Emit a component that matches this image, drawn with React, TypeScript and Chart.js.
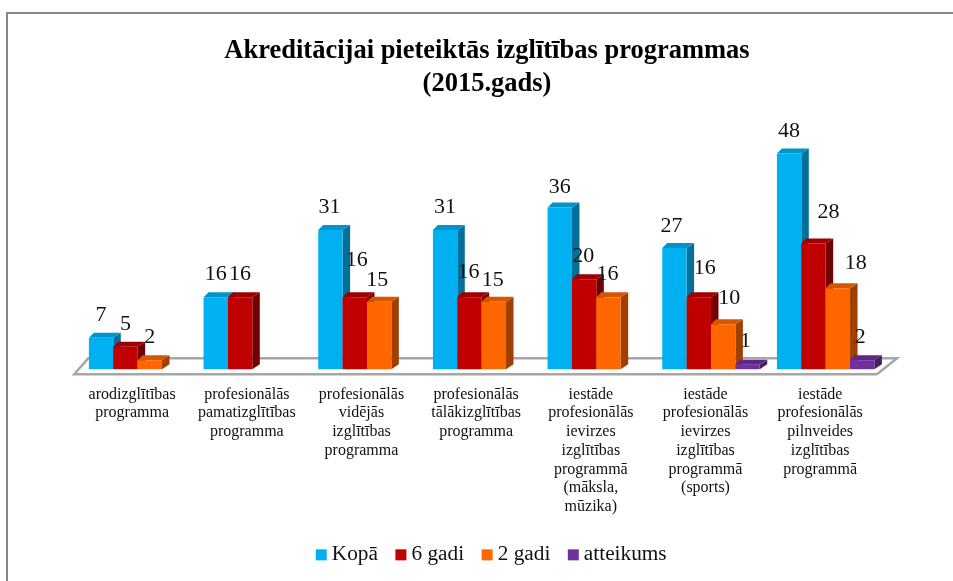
import React, { useEffect, useRef } from "react";
import { Chart, registerables } from "chart.js";

Chart.register(...registerables);

const categories: string[][] = [
  ["arodizglītības", "programma"],
  ["profesionālās", "pamatizglītības", "programma"],
  ["profesionālās", "vidējās", "izglītības", "programma"],
  ["profesionālās", "tālākizglītības", "programma"],
  ["iestāde", "profesionālās", "ievirzes", "izglītības", "programmā", "(māksla,", "mūzika)"],
  ["iestāde", "profesionālās", "ievirzes", "izglītības", "programmā", "(sports)"],
  ["iestāde", "profesionālās", "pilnveides", "izglītības", "programmā"],
];
const kopa = [7, 16, 31, 31, 36, 27, 48];
const gadi6 = [5, 16, 16, 16, 20, 16, 28];
const gadi2 = [2, null, 15, 15, 16, 10, 18];
const atteikums = [null, null, null, null, null, 1, 2];

// hand-placed label shifts of the original, [dx, dy] per series and category
const labelNudges: number[][][] = [
  [[0, 0], [0, 0], [-1, 0], [0, 0], [0, 3], [-3, 1], [0, 1]],
  [[0, 0], [0, 0], [2, -14], [-1, -2], [-1, 0], [6, -6], [15, -8]],
  [[0, 0], [0, 0], [-2, 1], [-1, 1], [-1, 0], [6, -3], [18, -2]],
  [[0, 0], [0, 0], [0, 0], [0, 0], [0, 0], [-2, 0], [-2, 0]],
];

const FRONT = ["#00B0F0", "#C00000", "#FF6600", "#7030A0"];
const TOP = ["#0094C8", "#9E0000", "#D65500", "#5C2785"];
const SIDE = ["#006F99", "#730000", "#A04000", "#45205F"];
const SERIF = "'Liberation Serif', 'Times New Roman', serif";
const DX = 7.5;
const DY = -5;
const LEGEND_SHIFT = 9.7;

const poly = (ctx: CanvasRenderingContext2D, pts: number[][], fill: string) => {
  ctx.beginPath();
  pts.forEach(([x, y], i) => (i ? ctx.lineTo(x, y) : ctx.moveTo(x, y)));
  ctx.closePath();
  ctx.fillStyle = fill;
  ctx.fill();
};

const chart3d = {
  id: "chart3d",
  afterLayout(chart: any) {
    const { legend } = chart;
    legend.left += LEGEND_SHIFT;
    legend.right += LEGEND_SHIFT;
    legend.legendHitBoxes.forEach((box: any) => {
      box.left += LEGEND_SHIFT;
    });
  },
  beforeDraw(chart: any) {
    const { ctx } = chart;
    ctx.save();
    ctx.strokeStyle = "#888888";
    ctx.lineWidth = 2;
    ctx.beginPath();
    ctx.moveTo(7, chart.height);
    ctx.lineTo(7, 13);
    ctx.lineTo(chart.width, 13);
    ctx.stroke();
    ctx.restore();
  },
  beforeDatasetsDraw(chart: any) {
    const { ctx, chartArea: a } = chart;
    ctx.save();
    ctx.strokeStyle = "#A6A6A6";
    ctx.lineWidth = 2.5;
    ctx.beginPath();
    ctx.moveTo(a.right - 6, a.bottom + 5);
    ctx.lineTo(a.left - 6, a.bottom + 5);
    ctx.lineTo(a.left + 8, a.bottom - 11);
    ctx.lineTo(a.right + 14, a.bottom - 11);
    ctx.lineTo(a.right - 6, a.bottom + 5);
    ctx.stroke();
    ctx.restore();
  },
  beforeDatasetDraw() {
    return false;
  },
  afterDatasetsDraw(chart: any) {
    const { ctx } = chart;
    ctx.save();
    chart.data.datasets.forEach((ds: any, i: number) => {
      chart.getDatasetMeta(i).data.forEach((bar: any, j: number) => {
        if (ds.data[j] == null) return;
        const { x, y, base, width } = bar.getProps(["x", "y", "base", "width"], true);
        const l = x - width / 2;
        const r = x + width / 2;
        poly(ctx, [[r, y], [r + DX, y + DY], [r + DX, base + DY], [r, base]], SIDE[i]);
        poly(ctx, [[l, y], [l + DX - 2.5, y + DY], [r + DX, y + DY], [r, y]], TOP[i]);
        bar.draw(ctx);
      });
    });
    ctx.font = `22px ${SERIF}`;
    ctx.fillStyle = "#111111";
    ctx.textAlign = "center";
    ctx.textBaseline = "middle";
    chart.data.datasets.forEach((ds: any, i: number) => {
      chart.getDatasetMeta(i).data.forEach((bar: any, j: number) => {
        if (ds.data[j] == null) return;
        const { x, y } = bar.getProps(["x", "y"], true);
        const [nx, ny] = labelNudges[i][j];
        ctx.fillText(String(ds.data[j]), x + nx, y - 23 + ny);
      });
    });
    ctx.restore();
  },
  afterDraw(chart: any) {
    const { ctx, legend } = chart;
    ctx.save();
    legend.legendHitBoxes.forEach((box: any, i: number) => {
      ctx.fillStyle = FRONT[i];
      ctx.fillRect(box.left - 11, box.top + box.height / 2 - 5.5, 11, 11);
    });
    ctx.restore();
  },
};

export default function App() {
  const ref = useRef<HTMLCanvasElement>(null);
  useEffect(() => {
    const chart = new Chart(ref.current as HTMLCanvasElement, {
      type: "bar",
      plugins: [chart3d],
      data: {
        labels: categories,
        datasets: [
          { label: "Kopā", data: kopa, backgroundColor: FRONT[0] },
          { label: "6 gadi", data: gadi6, backgroundColor: FRONT[1] },
          { label: "2 gadi", data: gadi2, backgroundColor: FRONT[2] },
          { label: "atteikums", data: atteikums, backgroundColor: FRONT[3] },
        ],
      },
      options: {
        responsive: false,
        animation: false,
        layout: { padding: { left: 24, right: 3, top: 0, bottom: 5.5 } },
        datasets: { bar: { categoryPercentage: 0.85, barPercentage: 1 } },
        scales: {
          x: {
            grid: { display: false },
            border: { display: false },
            ticks: {
              padding: 8,
              labelOffset: -5.5,
              maxRotation: 0,
              autoSkip: false,
              color: "#111111",
              font: { family: SERIF, size: 16, lineHeight: "18.7px" },
            },
            afterFit(scale: any) {
              scale.height = 146.5;
            },
          },
          y: {
            min: 0,
            max: 50,
            grid: { display: false },
            border: { display: false },
            ticks: { display: false },
            afterFit(scale: any) {
              scale.width = 56.3;
            },
          },
          yRight: {
            position: "right",
            min: 0,
            max: 50,
            grid: { display: false },
            border: { display: false },
            ticks: { display: false },
            afterFit(scale: any) {
              scale.width = 67;
            },
          },
        },
        plugins: {
          tooltip: { enabled: false },
          title: {
            display: true,
            text: ["Akreditācijai pieteiktās izglītības programmas", "(2015.gads)"],
            color: "#000000",
            font: { family: SERIF, size: 26.5, weight: "bold", lineHeight: "33px" },
            padding: { top: 35, bottom: 43.6 },
          },
          legend: {
            position: "bottom",
            labels: {
              boxWidth: -5.6,
              padding: 28.5,
              color: "#111111",
              font: { family: SERIF, size: 21.3 },
            },
          },
        },
      },
    } as any);
    return () => chart.destroy();
  }, []);
  return (
    <div style={{ position: "absolute", left: 0, top: 0, width: 953, height: 581, overflow: "hidden" }}>
      <canvas ref={ref} width={953} height={581} style={{ display: "block", filter: "blur(0.45px)" }} />
    </div>
  );
}
